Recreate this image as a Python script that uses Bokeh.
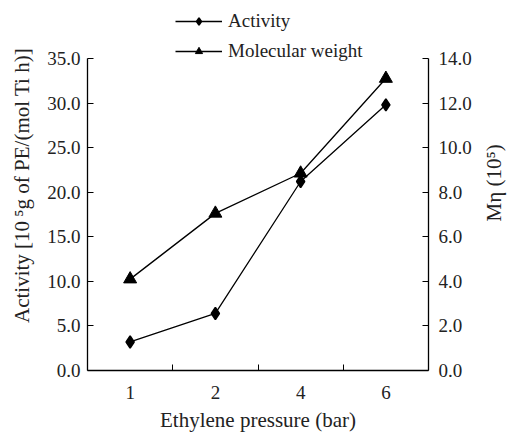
import math
from bokeh.plotting import figure
from bokeh.layouts import row
from bokeh.core.properties import value
from bokeh.models import (LinearAxis, Range1d, FixedTicker, Legend, LegendItem,
                          NumeralTickFormatter, ColumnDataSource)
from bokeh.embed import file_html
from bokeh.resources import INLINE

# ---- data ----
pressure_labels = ["1", "2", "4", "6"]
activity = [3.2, 6.4, 21.2, 29.8]
mol_weight = [4.1, 7.05, 8.85, 13.1]
left_ticks = [0, 5, 10, 15, 20, 25, 30, 35]
right_ticks = [0, 2, 4, 6, 8, 10, 12, 14]
left_max, right_max = 35, 14

x_pos = [i + 1 for i in range(len(pressure_labels))]
FONT = "Liberation Serif"
TXT = "#222222"

# layout (pixels): plotted box is 312px tall; the frame extends above it to hold the legend
PLOT_H, FRAME_H, BOTTOM = 312, 370, 63
scale = FRAME_H / PLOT_H

p = figure(frame_width=341, frame_height=FRAME_H, output_backend="svg", toolbar_location=None,
           x_range=Range1d(0.5, len(pressure_labels) + 0.5),
           y_range=Range1d(0, left_max * scale),
           min_border_left=87, min_border_right=47, min_border_top=0, min_border_bottom=BOTTOM)
p.outline_line_color = None
p.xgrid.visible = False
p.ygrid.visible = False
p.background_fill_color = "white"
p.border_fill_color = "white"

p.extra_y_ranges = {"mw": Range1d(0, right_max * scale)}

src = ColumnDataSource(dict(x=x_pos, act=activity, mw=mol_weight))

l1 = p.line("x", "act", source=src, line_color="black", line_width=1.3)
m1 = p.scatter("x", "act", source=src, marker="diamond", size=12, line_width=1.6,
               fill_color="black", line_color="black")
l2 = p.line("x", "mw", source=src, line_color="black", line_width=1.3, y_range_name="mw")
m2 = p.scatter("x", "mw", source=src, marker="triangle", size=13,
               fill_color="black", line_color="black", y_range_name="mw")

# x axis
xa = p.xaxis[0]
xa.ticker = FixedTicker(ticks=x_pos, minor_ticks=[x + 0.5 for x in x_pos[:-1]])
xa.major_label_overrides = {x: lab for x, lab in zip(x_pos, pressure_labels)}
xa.major_tick_line_color = None
xa.minor_tick_in = 6
xa.minor_tick_out = 0
xa.axis_label = "Ethylene pressure (bar)"

# left y axis
ya = p.yaxis[0]
ya.ticker = FixedTicker(ticks=left_ticks)
ya.formatter = NumeralTickFormatter(format="0.0")
ya.bounds = (0, left_max)
ya.axis_label = "Activity [10\u2009\u2075g of PE/(mol Ti h)]"

# right y axis
yr = LinearAxis(y_range_name="mw", ticker=FixedTicker(ticks=right_ticks),
                formatter=NumeralTickFormatter(format="0.0"), bounds=(0, right_max))
p.add_layout(yr, "right")

for ax in [xa, ya, yr]:
    ax.axis_line_color = "black"
    ax.axis_line_width = 1.3
    ax.major_label_text_font = FONT
    ax.major_label_text_font_size = "19px"
    ax.major_label_text_color = TXT
    ax.axis_label_text_font = FONT
    ax.axis_label_text_font_size = "21px"
    ax.axis_label_text_font_style = "normal"
    ax.axis_label_text_color = TXT
    ax.minor_tick_line_color = "black"
for ax in [ya, yr]:
    ax.major_tick_in = 6
    ax.major_tick_out = 0
    ax.major_tick_line_color = "black"
    ax.minor_tick_line_color = None
ya.major_label_standoff = 7
yr.major_label_standoff = 10
xa.major_label_standoff = 9
xa.axis_label_standoff = 6
ya.axis_label_standoff = 10

legend = Legend(items=[LegendItem(label="Activity", renderers=[l1, m1]),
                       LegendItem(label="Molecular weight", renderers=[l2, m2])],
                location=(88, FRAME_H - 62), orientation="vertical",
                border_line_color=None, background_fill_alpha=0,
                padding=0, margin=0, spacing=8,
                glyph_width=47, glyph_height=18, label_height=18,
                label_standoff=6, label_text_font=FONT, label_text_font_size="19px",
                label_text_color=TXT)
p.add_layout(legend, "center")

# right-hand axis title (reads bottom-to-top) in a narrow side panel
TOTAL_H = FRAME_H + BOTTOM
p2 = figure(width=33, height=TOTAL_H, output_backend="svg", toolbar_location=None,
            x_range=Range1d(0, 33), y_range=Range1d(0, TOTAL_H),
            x_axis_location=None, y_axis_location=None,
            min_border=0, min_border_left=0, min_border_right=0,
            min_border_top=0, min_border_bottom=0)
p2.outline_line_color = None
p2.xgrid.visible = False
p2.ygrid.visible = False
p2.text(x=[18], y=[TOTAL_H - (FRAME_H - PLOT_H / 2)], text=["M\u03b7 (10\u2075)"],
        angle=math.pi / 2, text_align="center", text_baseline="middle",
        text_font=value(FONT), text_font_size="21px", text_color=TXT)

layout = row(p, p2, spacing=0)
open("out.html", "w").write(file_html(layout, INLINE))
